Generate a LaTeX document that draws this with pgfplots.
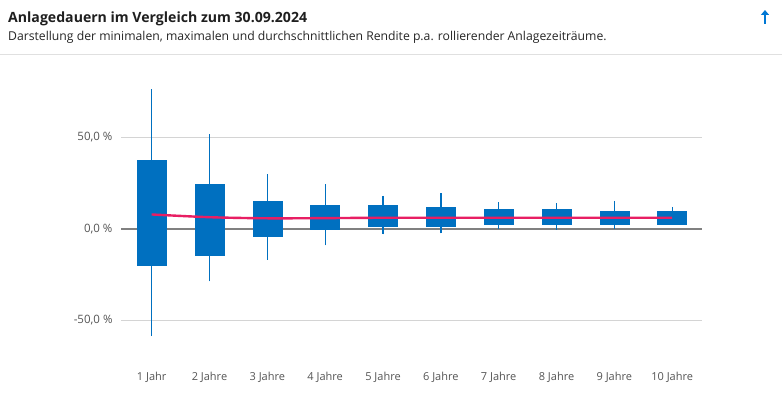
\documentclass[border=0pt]{standalone}
\usepackage{pgfplots}
\pgfplotsset{compat=1.18}
\usepgfplotslibrary{statistics}
\usetikzlibrary{arrows.meta}
\usepackage{fontspec}
\setmainfont{Open Sans}
\definecolor{boxblue}{RGB}{0,112,192}
\definecolor{meanpink}{RGB}{232,30,99}
\definecolor{zerogray}{RGB}{128,128,128}
\definecolor{gridgray}{RGB}{212,212,212}
\definecolor{labgray}{RGB}{85,85,85}
\definecolor{sepgray}{RGB}{224,224,224}
\definecolor{arrowblue}{RGB}{0,120,212}
\begin{document}
\begin{tikzpicture}[x=1pt,y=1pt]
\path[use as bounding box, fill=white] (0,0) rectangle (782,392);
% header
\node[anchor=base west, inner sep=0pt, text=black!88] at (8,370)
  {\fontsize{14.1}{17}\selectfont\bfseries Anlagedauern im Vergleich zum 30.09.2024};
\node[anchor=base west, inner sep=0pt, text=black!85] at (8,352)
  {\fontsize{12.2}{14}\selectfont Darstellung der minimalen, maximalen und durchschnittlichen Rendite p.a. rollierender Anlagezeitr\"aume.};
\draw[sepgray, line width=1pt] (0,338) -- (782,338);
\draw[arrowblue, line width=2pt, -{Triangle[length=5pt,width=8pt]}] (765,368) -- (765,382);
\begin{axis}[
  at={(121pt,44.54pt)}, anchor=south west,
  scale only axis, width=580.7pt, height=274.05pt,
  xmin=0.47, xmax=10.51, ymin=-65, ymax=85,
  axis line style={draw=none},
  major tick length=0pt,
  xtick={1,...,10},
  xticklabels={1 Jahr,2 Jahre,3 Jahre,4 Jahre,5 Jahre,6 Jahre,7 Jahre,8 Jahre,9 Jahre,10 Jahre},
  ytick={-50,0,50},
  yticklabels={{-50,0 \%},{0,0 \%},{50,0 \%}},
  ymajorgrids,
  grid style={gridgray, line width=1pt},
  yticklabel style={font=\fontsize{11.5}{13}\selectfont, text=labgray, anchor=east, xshift=-5pt},
  xticklabel style={font=\fontsize{11}{13}\selectfont, text=labgray, anchor=base, yshift=-33pt},
  boxplot/draw direction=y,
  boxplot/every whisker/.style={draw=boxblue, line width=1.3pt},
  boxplot/every box/.style={draw=boxblue, fill=boxblue, line width=0.5pt},
  boxplot/every median/.style={draw=boxblue, line width=0.5pt},
  clip=false,
]
\addplot[zerogray, line width=1.6pt] coordinates {(0.47,0) (10.51,0)};
% boxes
\addplot[boxplot prepared={draw position=1, lower whisker=-58.8, lower quartile=-20.0, median=7.8, upper quartile=37.2, upper whisker=76.3, box extend=0.5, whisker extend=0}, draw=boxblue, fill=boxblue] coordinates {};
\addplot[boxplot prepared={draw position=2, lower whisker=-28.8, lower quartile=-14.6, median=6.4, upper quartile=24.6, upper whisker=51.7, box extend=0.5, whisker extend=0}, draw=boxblue, fill=boxblue] coordinates {};
\addplot[boxplot prepared={draw position=3, lower whisker=-16.9, lower quartile=-4.2, median=5.6, upper quartile=14.8, upper whisker=29.9, box extend=0.5, whisker extend=0}, draw=boxblue, fill=boxblue] coordinates {};
\addplot[boxplot prepared={draw position=4, lower whisker=-9.1, lower quartile=-0.5, median=5.8, upper quartile=13.1, upper whisker=24.4, box extend=0.5, whisker extend=0}, draw=boxblue, fill=boxblue] coordinates {};
\addplot[boxplot prepared={draw position=5, lower whisker=-3.1, lower quartile=1.1, median=6.0, upper quartile=13.1, upper whisker=18.0, box extend=0.5, whisker extend=0}, draw=boxblue, fill=boxblue] coordinates {};
\addplot[boxplot prepared={draw position=6, lower whisker=-2.6, lower quartile=1.6, median=6.0, upper quartile=11.5, upper whisker=19.5, box extend=0.5, whisker extend=0}, draw=boxblue, fill=boxblue] coordinates {};
\addplot[boxplot prepared={draw position=7, lower whisker=0.0, lower quartile=2.7, median=6.0, upper quartile=10.4, upper whisker=14.6, box extend=0.5, whisker extend=0}, draw=boxblue, fill=boxblue] coordinates {};
\addplot[boxplot prepared={draw position=8, lower whisker=-0.5, lower quartile=2.2, median=6.0, upper quartile=10.4, upper whisker=14.0, box extend=0.5, whisker extend=0}, draw=boxblue, fill=boxblue] coordinates {};
\addplot[boxplot prepared={draw position=9, lower whisker=0.0, lower quartile=2.2, median=6.0, upper quartile=9.8, upper whisker=15.3, box extend=0.5, whisker extend=0}, draw=boxblue, fill=boxblue] coordinates {};
\addplot[boxplot prepared={draw position=10, lower whisker=2.2, lower quartile=2.7, median=6.0, upper quartile=9.8, upper whisker=11.9, box extend=0.5, whisker extend=0}, draw=boxblue, fill=boxblue] coordinates {};
% mean line
\addplot[meanpink, line width=2.4pt, smooth] coordinates {
(1,7.8) (2,6.3) (3,5.7) (4,5.8) (5,6.0) (6,6.0) (7,6.0) (8,6.0) (9,6.0) (10,6.0)};
\end{axis}
\end{tikzpicture}
\end{document}
